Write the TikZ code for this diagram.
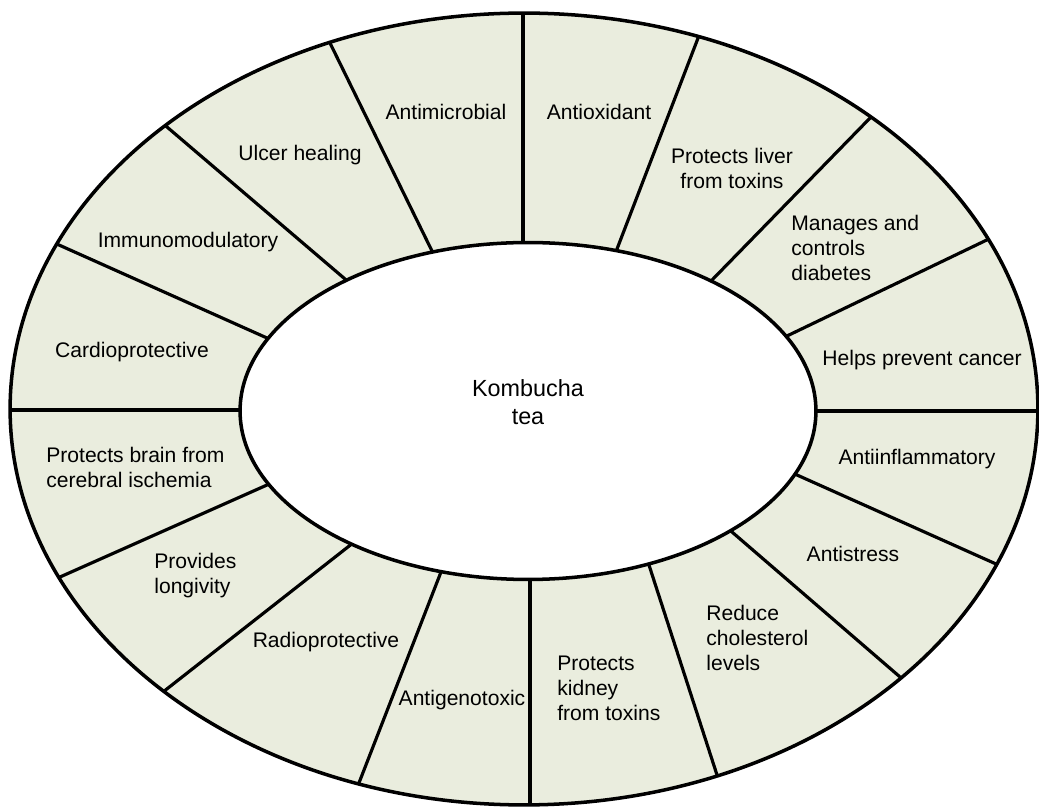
\documentclass[tikz,border=0pt]{standalone}
\usepackage{fontspec}
\setmainfont{Liberation Sans}
\usetikzlibrary{calc}
\definecolor{ringfill}{RGB}{234,237,222}
\tikzset{
  lbl/.style={inner sep=0pt, font=\fontsize{12}{14.2}\selectfont, text=black},
  lblL/.style={lbl, align=left, anchor=west},
  lblC/.style={lbl, align=center},
  divider/.style={line width=1.8pt, draw=black},
  rim/.style={line width=2pt, draw=black}
}
\begin{document}
\begin{tikzpicture}[x=0.02cm,y=-0.02cm]
\useasboundingbox (0,0) rectangle (1039,807);
\coordinate (oc) at (524,409);
\coordinate (ic) at (528,411);
% outer and inner points of dividers
\coordinate (o1) at (523,13);   \coordinate (i1) at (523,243);
\coordinate (o2) at (700,33);   \coordinate (i2) at (617,249);
\coordinate (o3) at (873,115);  \coordinate (i3) at (713,279);
\coordinate (o4) at (993,237);  \coordinate (i4) at (789,335);
\coordinate (o5) at (1038,411); \coordinate (i5) at (817,411);
\coordinate (o6) at (1005,568); \coordinate (i6) at (797,475);
\coordinate (o7) at (907,683);  \coordinate (i7) at (732,532);
\coordinate (o8) at (718,778);  \coordinate (i8) at (648,562);
\coordinate (o9) at (530,805);  \coordinate (i9) at (530,580);
\coordinate (o10) at (357,788); \coordinate (i10) at (441,572);
\coordinate (o11) at (163,692); \coordinate (i11) at (353,543);
\coordinate (o12) at (60,577);  \coordinate (i12) at (267,485);
\coordinate (o13) at (10,410);  \coordinate (i13) at (240,410);
\coordinate (o14) at (59,245);  \coordinate (i14) at (267,338);
\coordinate (o15) at (167,127); \coordinate (i15) at (345,279);
\coordinate (o16) at (330,43);  \coordinate (i16) at (432,251);
% ring fill
\fill[ringfill] (oc) ellipse [x radius=10.28cm, y radius=7.92cm];
\begin{scope}
  \clip (oc) ellipse [x radius=10.28cm, y radius=7.92cm];
  \foreach \k in {1,...,16}{
    \draw[divider] ($(o\k)!-0.08!(i\k)$) -- ($(o\k)!1.08!(i\k)$);
  }
\end{scope}
\fill[white] (ic) ellipse [x radius=5.76cm, y radius=3.37cm];
\draw[rim] (oc) ellipse [x radius=10.28cm, y radius=7.92cm];
\draw[rim] (ic) ellipse [x radius=5.76cm, y radius=3.37cm];
% labels
\node[lbl] (antimicrobial) at (446,112) {Antimicrobial};
\node[lbl] (ulcer) at (300,155) {Ulcer healing};
\node[lbl] (immuno) at (188,242) {Immunomodulatory};
\node[lbl] (cardio) at (132,352) {Cardioprotective};
\node[lbl] (antiox) at (599,112) {Antioxidant};
\node[lblC] (liver) at (732,168) {Protects liver\\from toxins};
\node[lblL] (diabetes) at (791,248) {Manages and\\controls\\diabetes};
\node[lbl] (cancer) at (922,360) {Helps prevent cancer};
\node[lbl] (antiinfl) at (917,459) {Antiinflammatory};
\node[lbl] (antistress) at (853,554) {Antistress};
\node[lblL] (cholesterol) at (706,638) {Reduce\\cholesterol\\levels};
\node[lblL] (kidney) at (557,688) {Protects\\kidney\\from toxins};
\node[lbl] (antigeno) at (462,700) {Antigenotoxic};
\node[lbl] (radio) at (326,642) {Radioprotective};
\node[lblL] (longivity) at (154,576) {Provides\\longivity};
\node[lblL] (brain) at (46,467) {Protects brain from\\cerebral ischemia};
\node[lblC, font=\fontsize{13.3}{15.9}\selectfont] (kombucha) at (528,402) {Kombucha\\tea};
\end{tikzpicture}
\end{document}
